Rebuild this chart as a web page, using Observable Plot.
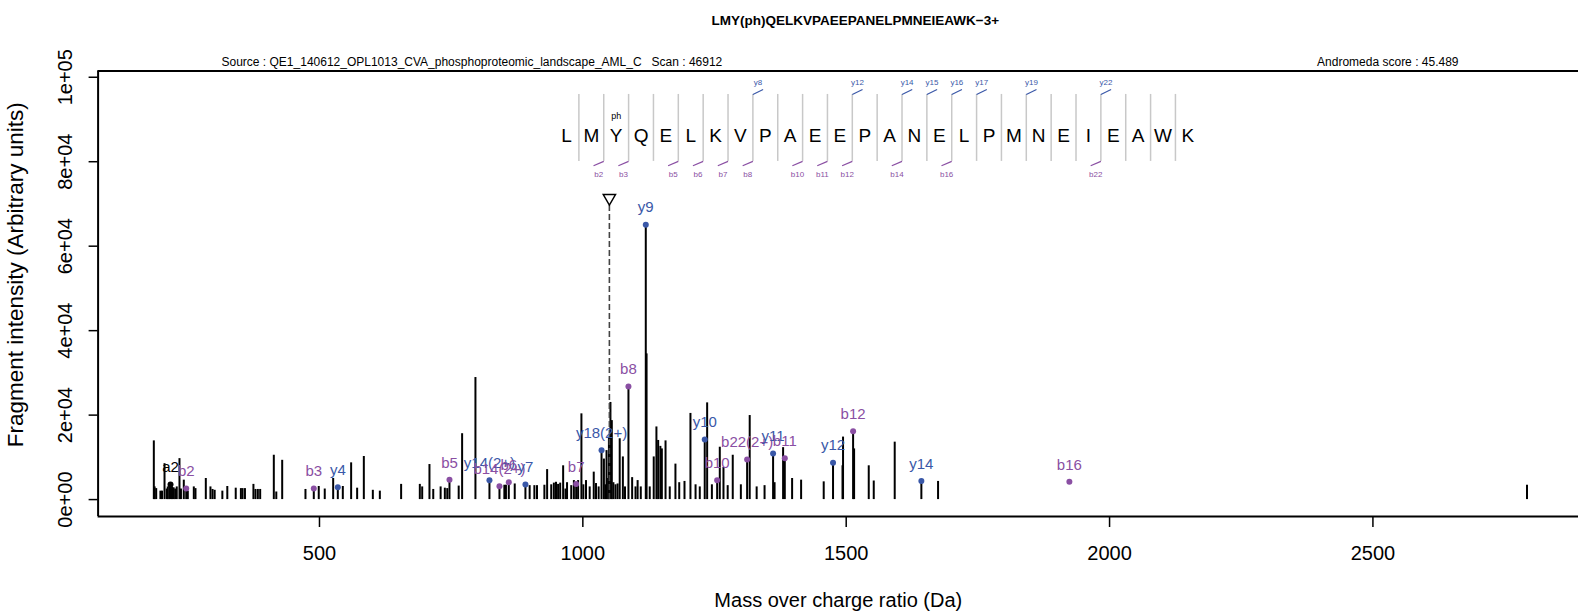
<!DOCTYPE html>
<html><head><meta charset="utf-8">
<script src="https://cdn.jsdelivr.net/npm/d3@7"></script>
<script src="https://cdn.jsdelivr.net/npm/@observablehq/plot@0.6"></script>
<style>
html,body{margin:0;padding:0;background:#fff;}
svg{font-family:"Liberation Sans", Arial, Helvetica, sans-serif;}
</style>
</head><body><div id="chart"></div>
<script>
// ---------- data ----------
const peakMz = [185.5,187,190,198,201,205.8,210,212,215,217.2,220,223,226,229,234.2,237,242.4,247,250,261.4,264.6,284.2,293,297,301,315.6,325,341,350.8,354,358.5,374.6,378.5,383,387.4,413.3,418,429.2,473.4,489.2,498.6,510,526,534.8,544.3,560.1,571.5,584.2,601.3,614.6,655,690.5,695,708.8,716,730,738,742.6,746.8,764.3,770.8,796.1,822.7,841.7,851,854,859.4,870.7,891,899,908,913,927,932.2,940,945,949,953,957,962.6,967,970,978,983,987.3,991,997.3,1001,1006,1013,1020.7,1025,1030,1035.5,1040,1043,1045,1048,1049.5,1052.4,1055,1058,1062,1066,1070,1076,1080,1086.6,1093.6,1100,1104,1110,1119.5,1121,1127,1134.6,1139.7,1143,1147.2,1150,1157,1165,1175.8,1183,1193,1204.3,1214,1222,1231.4,1236,1245,1255,1260,1267,1275,1284.6,1300,1311.9,1316.8,1330,1345,1361.2,1364,1380.2,1383.4,1397.3,1414.4,1457.3,1475,1493,1494,1513.1,1515,1542.8,1552.3,1592.1,1642.7,1674.4,2792.5];
const peakIntensity = [13900,3000,2600,2000,2000,8500,2500,3000,3300,3600,3000,2800,2500,3000,9700,2500,4600,2600,2000,3000,2600,5000,3000,2400,2200,2000,3100,2700,2600,2600,2600,3600,2400,2400,2400,10500,1800,9300,2400,2600,3100,2500,5000,2900,3100,8700,2700,10200,2200,2000,3600,3600,3000,8300,2400,3000,2700,2600,4700,3200,15600,28900,4600,3150,3400,3400,4100,3700,3600,3300,3300,3300,3400,7100,3500,3900,4100,3600,3900,8000,2500,4000,3300,4500,3700,4500,20300,3500,4500,3000,6500,3800,3000,11700,9600,3500,11600,5000,14800,23000,18700,4000,3500,3700,14400,10100,3000,26800,5200,3000,4500,3000,65100,34500,3000,10100,17200,14000,12600,12000,13900,3000,8400,4000,4300,20400,3500,3000,14200,22900,3500,4600,12400,7600,3300,10500,3500,9500,19900,3000,3300,10900,4000,12300,9800,5000,4600,4200,8750,8000,14800,16200,12000,8000,4400,13600,4400,4300,3400];

const ionLabels = ["a2","b2","b3","y4","b5","y14(2+)","b14(2+)","b6","y7","b7","y18(2+)","b8","y9","y10","b10","b22(2+)","y11","b11","y12","b12","y14","b16"];
const ionMz = [217.2,247,489.2,534.8,746.8,822.7,841.7,859.4,891,987.3,1035.5,1086.6,1119.5,1231.4,1255,1311.9,1361.2,1383.4,1475,1513.1,1642.7,1923.7];
const ionIntensity = [3600,2600,2600,2900,4700,4600,3150,4100,3600,3700,11700,26800,65100,14200,4600,9500,10900,9800,8750,16200,4400,4200];
const ionTypes = ["a","b","b","y","b","y","b","b","y","b","y","b","y","y","b","b","y","b","y","b","y","b"];

const sequence = ["L","M","Y","Q","E","L","K","V","P","A","E","E","P","A","N","E","L","P","M","N","E","I","E","A","W","K"];
const bIonSites = [2,3,5,6,7,8,10,11,12,14,16,22];
const yIonSites = [8,12,14,15,16,17,19,22];
const phosphoSites = [3];
const precursorMz = 1050.4;

const xTicks = [500,1000,1500,2000,2500];
const yTicks = [0,20000,40000,60000,80000,100000];
const yTickLabels = ["0e+00","2e+04","4e+04","6e+04","8e+04","1e+05"];

const titleText = "LMY(ph)QELKVPAEEPANELPMNEIEAWK\u22123+";
const sourceText = "Source : QE1_140612_OPL1013_CVA_phosphoproteomic_landscape_AML_C\u00a0\u00a0\u00a0Scan : 46912";
const scoreText = "Andromeda score : 45.489";
const xLabel = "Mass over charge ratio (Da)";
const yLabel = "Fragment intensity (Arbitrary units)";

// ---------- styling / layout ----------
const colors = {a: "#000000", b: "#8a4fa3", y: "#3a58a8"};
const xDomain = [79.7, 2890.3];
const yDomain = [-4005, 101480];
// sequence banner layout, in data units
const seqStart = 968.9, seqStep = 47.19;
const seqLetterY = 86150, sepLow = 80070, sepHigh = 95930;
const tickDx = 19.4, yTickTop = 97120, bTickBottom = 79050;
const yLabY = 98800, bLabY = 77000, phY = 90900, labShift = 9.7;

const peaks = peakMz.map((m, i) => ({mz: m, intensity: peakIntensity[i]}));
const ions = ionLabels.map((l, i) => ({label: l, mz: ionMz[i], intensity: ionIntensity[i], type: ionTypes[i]}));
const letters = sequence.map((s, i) => ({s, x: seqStart + i * seqStep}));
const seps = d3.range(1, sequence.length).map(k => ({k, x: seqStart + (k - 0.5) * seqStep}));
const ySeps = seps.filter(d => yIonSites.includes(d.k));
const bSeps = seps.filter(d => bIonSites.includes(d.k));
const phos = phosphoSites.map(k => ({x: seqStart + (k - 1) * seqStep}));

const plot = Plot.plot({
  width: 1578, height: 611,
  marginLeft: 97.6, marginRight: 0, marginTop: 70.5, marginBottom: 95,
  style: {fontSize: "20px", fontFamily: '"Liberation Sans", Arial, sans-serif', background: "#fff", overflow: "visible"},
  x: {domain: xDomain},
  y: {domain: yDomain},
  marks: [
    // peaks
    Plot.ruleX(peaks, {x: "mz", y1: 0, y2: "intensity", stroke: "#000", strokeWidth: 2}),
    // precursor
    Plot.ruleX([precursorMz], {x: d => d, y1: 0, y2: 70000, stroke: "#444", strokeWidth: 1.6, strokeDasharray: "6,3"}),
    Plot.dot([precursorMz], {x: d => d, y: 71400, symbol: "triangle", rotate: 180, r: 4.6, fill: "#fff", stroke: "#000", strokeWidth: 1.4}),
    // annotated ions
    Plot.dot(ions, {x: "mz", y: "intensity", r: 3, fill: d => colors[d.type], stroke: "none"}),
    Plot.text(ions, {x: "mz", y: "intensity", text: "label", dy: -17, fill: d => colors[d.type], fontSize: 15}),
    // sequence banner
    Plot.ruleX(seps, {x: "x", y1: sepLow, y2: sepHigh, stroke: "#c8c8c8", strokeWidth: 1.5}),
    Plot.link(ySeps, {x1: "x", y1: sepHigh, x2: d => d.x + tickDx, y2: yTickTop, stroke: colors.y, strokeWidth: 1.2}),
    Plot.link(bSeps, {x1: "x", y1: sepLow, x2: d => d.x - tickDx, y2: bTickBottom, stroke: colors.b, strokeWidth: 1.2}),
    Plot.text(ySeps, {x: d => d.x + labShift, y: yLabY, text: d => "y" + d.k, fill: colors.y, fontSize: 8}),
    Plot.text(bSeps, {x: d => d.x - labShift, y: bLabY, text: d => "b" + d.k, fill: colors.b, fontSize: 8}),
    Plot.text(letters, {x: "x", y: seqLetterY, text: "s", fontSize: 19, fill: "#000"}),
    Plot.text(phos, {x: "x", y: phY, text: () => "ph", fontSize: 9, fill: "#000"}),
    // frame (left, top, bottom)
    Plot.ruleX([xDomain[0]], {stroke: "#000", strokeWidth: 2}),
    Plot.ruleY([yDomain[0], yDomain[1]], {stroke: "#000", strokeWidth: 2}),
    // axes
    Plot.axisX({ticks: xTicks, tickSize: 11, tickPadding: 18, tickFormat: d3.format("d"), fontSize: 20, label: null, strokeWidth: 1.5}),
    Plot.axisY({ticks: yTicks, tickSize: 9, tickFormat: () => "", label: null, strokeWidth: 1.5}),
    Plot.text(yTicks, {y: d => d, text: (d, i) => yTickLabels[i], frameAnchor: "left", textAnchor: "middle", lineAnchor: "middle", dx: -32.6, rotate: -90, fontSize: 20}),
    // titles
    Plot.text([xLabel], {text: d => d, frameAnchor: "bottom", textAnchor: "middle", lineAnchor: "middle", dy: 84, fontSize: 20}),
    Plot.text([yLabel], {text: d => d, frameAnchor: "left", textAnchor: "middle", lineAnchor: "middle", dx: -82, dy: -19, rotate: -90, fontSize: 22.5}),
    Plot.text([titleText], {text: d => d, frameAnchor: "top", textAnchor: "middle", lineAnchor: "middle", dx: 17, dy: -50, fontSize: 13.5, fontWeight: "bold"}),
    Plot.text([sourceText], {text: d => d, frameAnchor: "top-left", textAnchor: "start", lineAnchor: "middle", dx: 123.4, dy: -9, fontSize: 12}),
    Plot.text([scoreText], {text: d => d, frameAnchor: "top-right", textAnchor: "end", lineAnchor: "middle", dx: -120, dy: -9, fontSize: 12})
  ]
});
document.getElementById("chart").appendChild(plot);
</script>
</body></html>
